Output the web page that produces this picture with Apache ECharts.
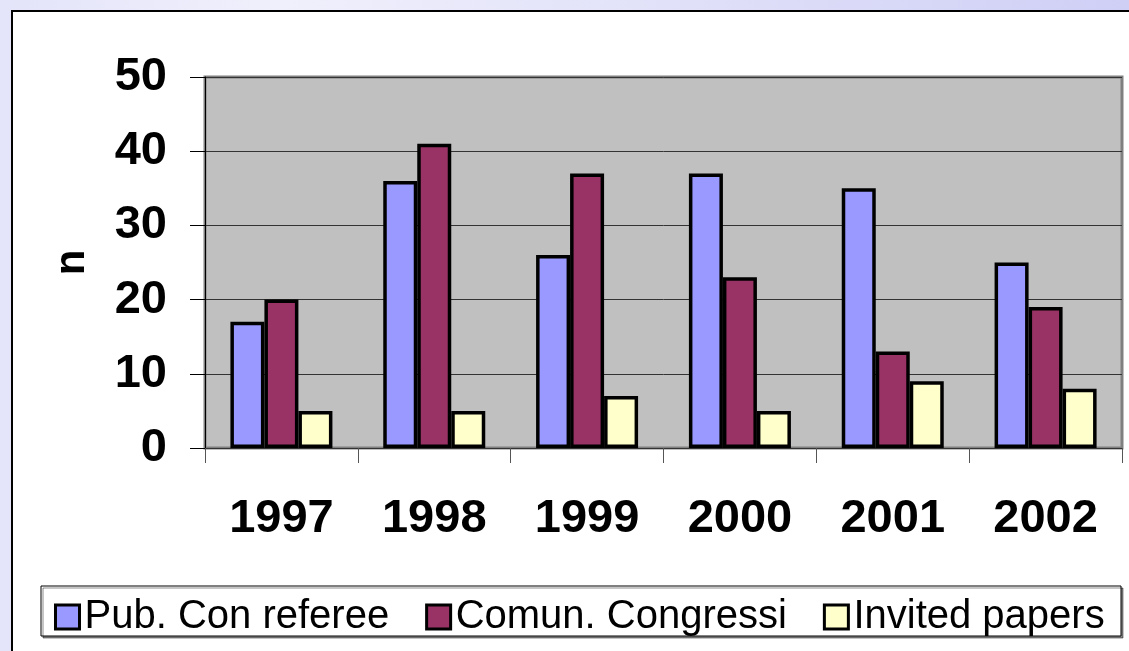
<!DOCTYPE html>
<html>
<head>
<meta charset="utf-8">
<script src="https://cdn.jsdelivr.net/npm/echarts@6/dist/echarts.min.js"></script>
<style>
  html, body { margin: 0; padding: 0; width: 1129px; height: 651px; overflow: hidden; }
  body { background: linear-gradient(90deg, #e4e4fa 0%, #f0f0fc 25%, #dcdcf8 70%, #cfcff6 100%); position: relative; }
  #frame { position: absolute; left: 11px; top: 10px; width: 1400px; height: 900px; background: #fff; border: 2px solid #000; box-sizing: border-box; }
  #chart { position: absolute; left: 0; top: 0; width: 1129px; height: 651px; }
</style>
</head>
<body>
<div id="frame"></div>
<div id="chart"></div>
<script>
const categories = ['1997', '1998', '1999', '2000', '2001', '2002'];
const seriesNames = ['Pub. Con referee', 'Comun. Congressi', 'Invited papers'];
const pubConReferee = [17, 36, 26, 37, 35, 25];
const comunCongressi = [20, 41, 37, 23, 13, 19];
const invitedPapers = [5, 5, 7, 5, 9, 8];
const yTicks = { min: 0, max: 50, interval: 10 };
const yAxisName = 'n';

const colors = ['#9999ff', '#993366', '#ffffcc'];
const seriesData = [pubConReferee, comunCongressi, invitedPapers];

const chart = echarts.init(document.getElementById('chart'), null, { renderer: 'canvas' });
const font = '"Liberation Sans", Arial, sans-serif';

chart.setOption({
  backgroundColor: 'transparent',
  animation: false,
  graphic: [{
    type: 'rect',
    z: 0,
    shape: { x: 41, y: 586, width: 1080, height: 50 },
    style: { fill: '#fff', stroke: '#000', lineWidth: 1, shadowColor: 'rgba(0,0,0,0.45)', shadowOffsetX: 2, shadowOffsetY: 2, shadowBlur: 0 }
  }],
  grid: {
    left: 205, top: 77, right: 7, bottom: 203,
    show: true, backgroundColor: '#c0c0c0', borderColor: '#808080', borderWidth: 3
  },
  legend: {
    left: 54, top: 597, padding: 0,
    itemWidth: 24, itemHeight: 24, itemGap: 36,
    icon: 'rect',
    itemStyle: { borderColor: '#000', borderWidth: 3 },
    textStyle: { fontFamily: font, fontSize: 40, color: '#000' },
    data: seriesNames
  },
  xAxis: {
    type: 'category',
    data: categories,
    boundaryGap: true,
    axisLine: { show: true, lineStyle: { color: '#333', width: 1 } },
    axisTick: { show: true, length: 15, lineStyle: { color: '#555', width: 1 } },
    axisLabel: { margin: 48, fontFamily: font, fontSize: 47, fontWeight: 'bold', color: '#000' },
    splitLine: { show: false }
  },
  yAxis: {
    type: 'value',
    min: yTicks.min, max: yTicks.max, interval: yTicks.interval,
    name: yAxisName,
    nameLocation: 'middle',
    nameGap: 112,
    nameTextStyle: { fontFamily: font, fontSize: 42, fontWeight: 'bold', color: '#000' },
    axisLine: { show: true, lineStyle: { color: '#000', width: 1 } },
    axisTick: { show: true, length: 15, lineStyle: { color: '#000', width: 1 } },
    axisLabel: { margin: 38, fontFamily: font, fontSize: 47, fontWeight: 'bold', color: '#000' },
    splitLine: { show: true, lineStyle: { color: '#333', width: 1 } }
  },
  series: seriesNames.map((name, i) => ({
    name: name,
    type: 'bar',
    data: seriesData[i],
    barWidth: 34,
    barGap: '0%',
    itemStyle: { color: colors[i], borderColor: '#000', borderWidth: 3.5 }
  }))
});
</script>
</body>
</html>
